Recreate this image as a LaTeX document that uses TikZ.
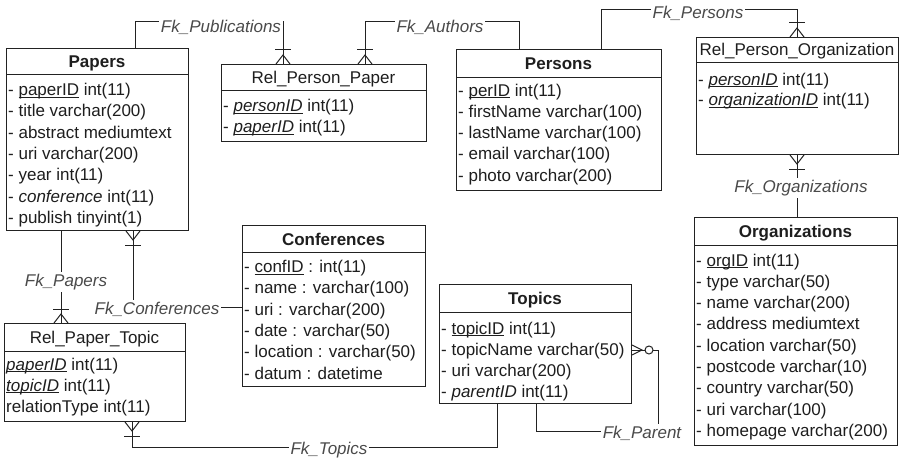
\documentclass[tikz,border=0pt]{standalone}
\usepackage{fontspec}
\setmainfont{Liberation Sans}
\usetikzlibrary{calc}
\definecolor{linec}{HTML}{222222}
\definecolor{txtc}{HTML}{1E1E1E}
\definecolor{lblc}{HTML}{4A4A4A}
\newcommand{\fldul}[1]{\setbox0=\hbox{#1}\rlap{\rule[-2.3pt]{\wd0}{0.9pt}}\box0\relax}
\newcommand{\ent}[6]{%
  \node[ebox, anchor=north west, minimum width=#4pt, minimum height=#5pt, inner sep=0pt] (#1) at (#2,#3) {};
  \draw[conn] ([yshift=-#6pt]#1.north west) -- ([yshift=-#6pt]#1.north east);}
\newcommand{\cfup}[1]{\draw[conn] ($(#1)+(-7,0)$) -- ($(#1)+(0,-9)$) -- ($(#1)+(7,0)$);
  \draw[conn] ($(#1)+(-8,-14)$) -- ($(#1)+(8,-14)$);}
\newcommand{\cfdown}[1]{\draw[conn] ($(#1)+(-7,0)$) -- ($(#1)+(0,9)$) -- ($(#1)+(7,0)$);
  \draw[conn] ($(#1)+(-8,14)$) -- ($(#1)+(8,14)$);}
\begin{document}
\begin{tikzpicture}[x=1pt,y=-1pt,
  ebox/.style={draw=linec, line width=1pt, fill=white},
  conn/.style={draw=linec, line width=1pt},
  ttl/.style={font=\fontsize{17}{20}\selectfont\bfseries, text=txtc, inner sep=0pt, anchor=base},
  ttlr/.style={font=\fontsize{17}{20}\selectfont, text=txtc, inner sep=0pt, anchor=base},
  fld/.style={font=\fontsize{17}{20}\selectfont, text=txtc, inner sep=0pt, anchor=base west},
  lbl/.style={font=\fontsize{17}{20}\selectfont\itshape, text=lblc, fill=white, inner sep=2pt, anchor=base}]
\useasboundingbox[fill=white] (0,0) rectangle (900,460);

% entities
\ent{papers}{6}{48}{182}{182}{27}
\ent{rpp}{221}{64}{205}{77}{27}
\ent{persons}{456}{49}{205}{141}{29}
\ent{rpo}{696}{37}{202}{117}{26}
\ent{orgs}{694}{217}{203}{228}{28}
\ent{conf}{242}{225}{183}{161}{27}
\ent{topics}{439}{284}{192}{119}{28}
\ent{rpt}{4}{323}{181}{98}{28}

% titles
\node[ttl] (papersT) at (97,68) {Papers};
\node[ttlr] (rppT) at (323.5,84) {Rel\_Person\_Paper};
\node[ttl] (personsT) at (558.5,70) {Persons};
\node[ttlr] (rpoT) at (797,56) {Rel\_Person\_Organization};
\node[ttl] (orgsT) at (795.5,237) {Organizations};
\node[ttl] (confT) at (333.5,245) {Conferences};
\node[ttl] (topicsT) at (535,304) {Topics};
\node[ttlr] (rptT) at (94.5,343) {Rel\_Paper\_Topic};

% rows
\foreach \t [count=\i] in {{- \fldul{paperID} int(11)},{- title varchar(200)},{- abstract mediumtext},{- uri varchar(200)},{- year int(11)},{- \textit{conference} int(11)},{- publish tinyint(1)}}
  \node[fld] (papers-r\i) at (8,{95.5+21.3*(\i-1)}) {\t};
\foreach \t [count=\i] in {{- \fldul{\itshape personID} int(11)},{- \fldul{\itshape paperID} int(11)}}
  \node[fld] (rpp-r\i) at (223,{111.5+21*(\i-1)}) {\t};
\foreach \t [count=\i] in {{- \fldul{perID} int(11)},{- firstName varchar(100)},{- lastName varchar(100)},{- email varchar(100)},{- photo varchar(200)}}
  \node[fld] (persons-r\i) at (458,{96+21.3*(\i-1)}) {\t};
\foreach \t [count=\i] in {{- \fldul{\itshape personID} int(11)},{- \fldul{\itshape organizationID} int(11)}}
  \node[fld] (rpo-r\i) at (698,{85+21*(\i-1)}) {\t};
\foreach \t [count=\i] in {{- \fldul{orgID} int(11)},{- type varchar(50)},{- name varchar(200)},{- address mediumtext},{- location varchar(50)},{- postcode varchar(10)},{- country varchar(50)},{- uri varchar(100)},{- homepage varchar(200)}}
  \node[fld] (orgs-r\i) at (696,{266+21.3*(\i-1)}) {\t};
\foreach \t [count=\i] in {{- \fldul{confID} : int(11)},{- name : varchar(100)},{- uri : varchar(200)},{- date : varchar(50)},{- location : varchar(50)},{- datum : datetime}}
  \node[fld] (conf-r\i) at (244,{272.5+21.3*(\i-1)}) {\t};
\foreach \t [count=\i] in {{- \fldul{topicID} int(11)},{- topicName varchar(50)},{- uri varchar(200)},{- \textit{parentID} int(11)}}
  \node[fld] (topics-r\i) at (441,{334+21.3*(\i-1)}) {\t};
\foreach \t [count=\i] in {{\fldul{\itshape paperID} int(11)},{\fldul{\itshape topicID} int(11)},{relationType int(11)}}
  \node[fld] (rpt-r\i) at (6,{370+21*(\i-1)}) {\t};

% connector end points
\coordinate (pubA) at ([xshift=129pt]papers.north west);
\coordinate (pubB) at ([xshift=62pt]rpp.north west);
\coordinate (authA) at ([xshift=63pt]persons.north west);
\coordinate (authB) at ([xshift=144pt]rpp.north west);
\coordinate (persA) at ([xshift=145pt]persons.north west);
\coordinate (persB) at ([xshift=101pt]rpo.north west);
\coordinate (orgA) at ([xshift=101pt]rpo.south west);
\coordinate (orgB) at ([xshift=103pt]orgs.north west);
\coordinate (papA) at ([xshift=55pt]papers.south west);
\coordinate (papB) at ([xshift=57pt]rpt.north west);
\coordinate (confA) at ([xshift=127pt]papers.south west);
\coordinate (confB) at ([yshift=-82pt]conf.north west);
\coordinate (topA) at ([xshift=128pt]rpt.south west);
\coordinate (topB) at ([xshift=58pt]topics.south west);
\coordinate (parA) at ([xshift=97pt]topics.south west);
\coordinate (parB) at ([yshift=-66pt]topics.north east);

% connectors
\draw[conn] (pubA) |- (283,22) -- (pubB);
\draw[conn] (authA) |- (365,22) -- (authB);
\draw[conn] (persA) |- (797,10) -- (persB);
\draw[conn] (orgA) -- (orgB);
\draw[conn] (papA) -- (papB);
\draw[conn] (confA) |- (confB);
\draw[conn] (topA) |- (497,447) -- (topB);
\draw[conn] (parA) |- (658,431) -- (658,350) -- ($(parB)+(21,0)$);
\draw[conn] (parB) -- ($(parB)+(13,0)$);
\draw[conn] ($(parB)+(0,-5)$) -- ($(parB)+(10,0)$) -- ($(parB)+(0,5)$);
\draw[conn] ($(parB)+(17,0)$) circle[radius=4pt];

% crow's feet
\cfup{pubB}
\cfup{authB}
\cfup{persB}
\cfdown{orgA}
\cfup{papB}
\cfdown{confA}
\cfdown{topA}

% labels
\node[lbl] (lPub) at (221,32.5) {Fk\_Publications};
\node[lbl] (lAuth) at (440,32.5) {Fk\_Authors};
\node[lbl] (lPers) at (698,19) {Fk\_Persons};
\node[lbl] (lOrg) at (801,192.5) {Fk\_Organizations};
\node[lbl] (lPap) at (66,286) {Fk\_Papers};
\node[lbl] (lConf) at (157,314) {Fk\_Conferences};
\node[lbl] (lTop) at (329,454) {Fk\_Topics};
\node[lbl] (lPar) at (642,438.5) {Fk\_Parent};
\end{tikzpicture}
\end{document}
